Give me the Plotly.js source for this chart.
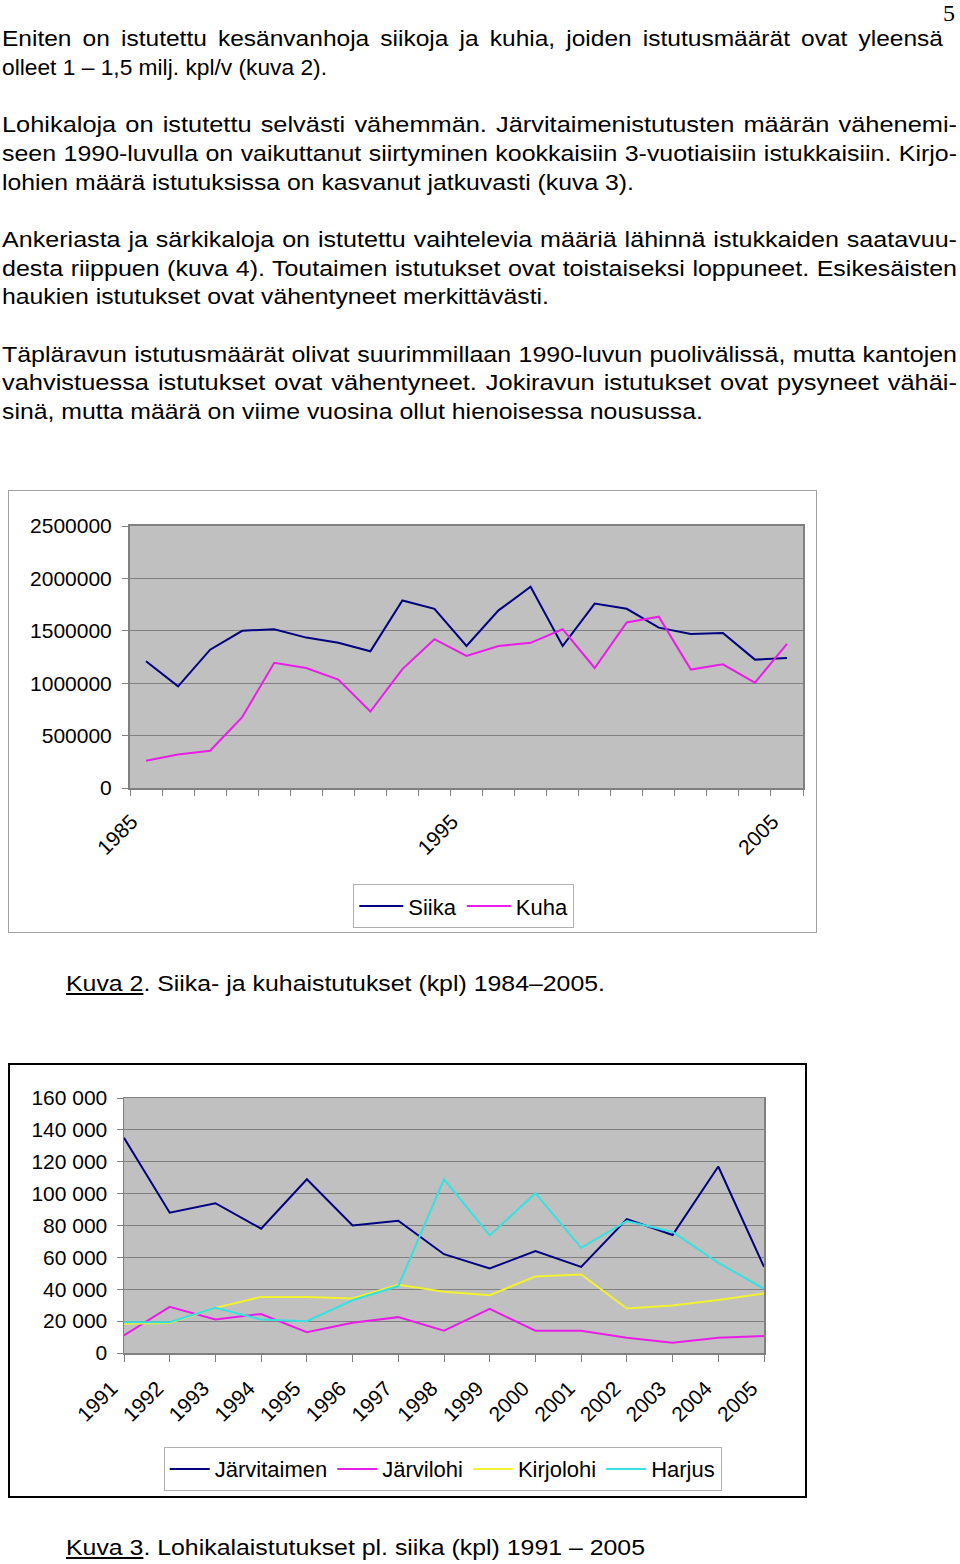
<!DOCTYPE html>
<html>
<head>
<meta charset="utf-8">
<script src="https://cdn.plot.ly/plotly-3.0.1.min.js"></script>
<style>
  html, body { margin:0; padding:0; background:#fff; }
  body { width:960px; height:1564px; position:relative; overflow:hidden;
         font-family:'Liberation Sans', Arial, Helvetica, sans-serif; color:#000; }
  .ln { position:absolute; font-size:22px; line-height:28px; height:28px;
        white-space:nowrap; transform-origin:0 50%; }
  .frame { position:absolute; box-sizing:border-box; pointer-events:none; }
  .plot { position:absolute; }
  #pnum { position:absolute; right:5px; top:1px; font-family:'Liberation Serif','Times New Roman',serif; font-size:24px; line-height:1; }
</style>
</head>
<body>
<div id="pnum">5</div>

<div class="plot" id="chart1" style="left:8px; top:490px; width:809px; height:443px;"></div>
<div class="frame" style="left:8px; top:490px; width:809px; height:443px; border:1px solid #a0a0a0;"></div>

<div class="plot" id="chart2" style="left:8px; top:1063px; width:799px; height:435px;"></div>
<div class="frame" style="left:8px; top:1063px; width:799px; height:435px; border:2px solid #000;"></div>

<script>
// ---------------- Chart data ----------------
// Kuva 2: Siika- ja kuhaistutukset (kpl)
const years1 = [1985,1986,1987,1988,1989,1990,1991,1992,1993,1994,1995,1996,1997,1998,1999,2000,2001,2002,2003,2004,2005];
const siika  = [1210000, 970000,1320000,1500000,1515000,1435000,1385000,1305000,1790000,1710000,1355000,1695000,1920000,1355000,1760000,1710000,1530000,1470000,1480000,1225000,1240000];
const kuha   = [ 260000, 320000, 355000, 675000,1195000,1145000,1035000, 730000,1135000,1420000,1260000,1355000,1385000,1515000,1145000,1580000,1635000,1130000,1180000,1005000,1375000];
const xLabels1 = [1985, 1995, 2005];
const yTicks1 = [0, 500000, 1000000, 1500000, 2000000, 2500000];

// Kuva 3: Lohikalaistutukset pl. siika (kpl)
const years2 = [1991,1992,1993,1994,1995,1996,1997,1998,1999,2000,2001,2002,2003,2004,2005];
const jarvitaimen = [135000, 88000, 94000, 78000,109000, 80000, 83000, 62000, 53000, 64000, 54000, 84000, 74000,117000, 54000];
const jarvilohi   = [ 11000, 29000, 21000, 24500, 13000, 19000, 22500, 14000, 27700, 14000, 14000,  9600,  6500,  9600, 10700];
const kirjolohi   = [ 18400, 18900, 28300, 35200, 35200, 34200, 42800, 38400, 36300, 48000, 49300, 27900, 29800, 33300, 37300];
const harjus      = [ 19300, 19300, 28300, 21000, 19900, 33100, 42000,109000, 73800,100200, 66000, 82800, 75900, 56600, 40300];
const yTicks2 = [0, 20000, 40000, 60000, 80000, 100000, 120000, 140000, 160000];

// ---------------- Page text ----------------
const paragraphs = [
  ["Eniten on istutettu kesänvanhoja siikoja ja kuhia, joiden istutusmäärät ovat yleensä",
   "olleet 1 – 1,5 milj. kpl/v (kuva 2)."],
  ["Lohikaloja on istutettu selvästi vähemmän. Järvitaimenistutusten määrän vähenemi-",
   "seen 1990-luvulla on vaikuttanut siirtyminen kookkaisiin 3-vuotiaisiin istukkaisiin. Kirjo-",
   "lohien määrä istutuksissa on kasvanut jatkuvasti (kuva 3)."],
  ["Ankeriasta ja särkikaloja on istutettu vaihtelevia määriä lähinnä istukkaiden saatavuu-",
   "desta riippuen (kuva 4). Toutaimen istutukset ovat toistaiseksi loppuneet. Esikesäisten",
   "haukien istutukset ovat vähentyneet merkittävästi."],
  ["Täpläravun istutusmäärät olivat suurimmillaan 1990-luvun puolivälissä, mutta kantojen",
   "vahvistuessa istutukset ovat vähentyneet. Jokiravun istutukset ovat pysyneet vähäi-",
   "sinä, mutta määrä on viime vuosina ollut hienoisessa nousussa."]
];
const captions = [
  {u:"Kuva 2", rest:". Siika- ja kuhaistutukset (kpl) 1984–2005."},
  {u:"Kuva 3", rest:". Lohikalaistutukset pl. siika (kpl) 1991 – 2005"}
];

// layout of text (page geometry)
const TEXT_LEFT = 2, LINE_H = 28.7, FIRST_CENTER = 39;
const paraStart = [0, 3, 7, 11];
const justRight = [[943], [957, 957], [957, 957], [957, 957]];
const lastEnd = [327, 634, 549, 703];
const capGeom = [{left:66, center:984, end:605}, {left:66, center:1548, end:645}];

function measure(html) {
  const s = document.createElement('span');
  s.className = 'ln';
  s.style.position = 'absolute'; s.style.visibility = 'hidden'; s.style.left = '0'; s.style.top = '0';
  s.innerHTML = html;
  document.body.appendChild(s);
  const w = s.getBoundingClientRect().width;
  document.body.removeChild(s);
  return w;
}
function esc(t){ return t.replace(/&/g,'&amp;').replace(/</g,'&lt;'); }

function drawText() {
  paragraphs.forEach((lines, p) => {
    const last = lines[lines.length - 1];
    const s = (lastEnd[p] - TEXT_LEFT) / measure(esc(last));
    lines.forEach((t, i) => {
      const cy = FIRST_CENTER + LINE_H * (paraStart[p] + i);
      const d = document.createElement('div');
      d.className = 'ln';
      d.textContent = t;
      d.style.left = TEXT_LEFT + 'px';
      d.style.top = (cy - 14) + 'px';
      if (i < lines.length - 1) {
        const W = justRight[p][i] - TEXT_LEFT;
        const n = measure(esc(t));
        const fit = W / n;
        let g = fit > s ? s + 0.6 * (fit - s) : fit;
        d.style.whiteSpace = 'normal';
        d.style.width = (W / g) + 'px';
        d.style.textAlign = 'justify';
        d.style.textAlignLast = 'justify';
        d.style.transform = 'scaleX(' + g + ')';
      } else {
        d.style.transform = 'scaleX(' + s + ')';
      }
      document.body.appendChild(d);
    });
  });
  captions.forEach((c, i) => {
    const g = capGeom[i];
    const html = '<u>' + esc(c.u) + '</u>' + esc(c.rest);
    const n = measure(html);
    const d = document.createElement('div');
    d.className = 'ln';
    d.innerHTML = html;
    d.style.left = g.left + 'px';
    d.style.top = (g.center - 14) + 'px';
    d.style.transform = 'scaleX(' + ((g.end - g.left) / n) + ')';
    document.body.appendChild(d);
  });
}
drawText();

// ---------------- Charts ----------------
const FONT = "'Liberation Sans', Arial, Helvetica, sans-serif";
const GRID = '#808080';
const NAVY = '#000080', MAGENTA = '#e81ee8', YELLOW = '#f2f230', CYAN = '#38e0e0';
// rotated labels in the reference sit a little left of their category
const LABEL_SHIFT1 = 0.45;          // fraction of a category (chart 1)
const PAD2 = '\u00a0\u00a0\u00a0';  // trailing padding that moves labels of chart 2 left/down

const trace = (x, y, name, color) => ({
  type:'scatter', mode:'lines', x:x, y:y, name:name,
  line:{color:color, width:2}, hoverinfo:'skip'
});

const layout1 = {
  width:809, height:443,
  margin:{l:122, r:14, t:36, b:145, pad:0},
  paper_bgcolor:'rgba(0,0,0,0)', plot_bgcolor:'#c0c0c0',
  font:{family:FONT, size:21, color:'#000'},
  showlegend:true,
  legend:{orientation:'h', xref:'paper', x:0.496, xanchor:'center',
          yref:'container', y:0.11, yanchor:'top',
          bgcolor:'#fff', bordercolor:'#b0b0b0', borderwidth:1, font:{size:22},
          itemwidth:44, tracegroupgap:0},
  xaxis:{range:[1984.5, 2005.5], tickmode:'array',
         tickvals:xLabels1.map(v => v - LABEL_SHIFT1), ticktext:xLabels1.map(String),
         ticks:'', tickangle:-45, showgrid:false, zeroline:false,
         showline:true, mirror:true, linecolor:GRID, linewidth:2, ticklabelstandoff:11,
         minor:{tickmode:'linear', tick0:1984.5, dtick:1, ticks:'outside', ticklen:6, tickcolor:GRID, tickwidth:1, showgrid:false}},
  yaxis:{range:[0, 2500000], tickmode:'array', tickvals:yTicks1, tickformat:'d',
         ticks:'outside', ticklen:6, tickcolor:GRID, tickwidth:1,
         showgrid:true, gridcolor:GRID, gridwidth:1, zeroline:false,
         showline:true, mirror:true, linecolor:GRID, linewidth:2, ticklabelstandoff:6}
};

Plotly.newPlot('chart1', [
  trace(years1, siika, 'Siika', NAVY),
  trace(years1, kuha, 'Kuha', MAGENTA)
], layout1, {displayModeBar:false, staticPlot:true});

const layout2 = {
  width:799, height:435,
  margin:{l:116, r:43, t:35, b:145, pad:0},
  separators:', ',
  paper_bgcolor:'rgba(0,0,0,0)', plot_bgcolor:'#c0c0c0',
  font:{family:FONT, size:21, color:'#000'},
  showlegend:true,
  legend:{orientation:'h', xref:'paper', x:0.498, xanchor:'center',
          yref:'container', y:0.117, yanchor:'top',
          bgcolor:'#fff', bordercolor:'#b0b0b0', borderwidth:1, font:{size:22},
          itemwidth:40, tracegroupgap:0},
  xaxis:{range:[1991, 2005], tickmode:'array',
         tickvals:years2, ticktext:years2.map(y => String(y) + PAD2),
         ticks:'outside', ticklen:7, tickcolor:GRID, tickwidth:1, tickangle:-45,
         showgrid:false, zeroline:false, showline:true, mirror:true, linecolor:GRID, linewidth:1.5,
         ticklabelstandoff:-6},
  yaxis:{range:[0, 160000], tickmode:'array', tickvals:yTicks2, tickformat:',d',
         ticks:'outside', ticklen:6, tickcolor:GRID, tickwidth:1,
         showgrid:true, gridcolor:GRID, gridwidth:1, zeroline:false,
         showline:true, mirror:true, linecolor:GRID, linewidth:1.5, ticklabelstandoff:5}
};

Plotly.newPlot('chart2', [
  trace(years2, jarvitaimen, 'Järvitaimen', NAVY),
  trace(years2, jarvilohi, 'Järvilohi', MAGENTA),
  trace(years2, kirjolohi, 'Kirjolohi', YELLOW),
  trace(years2, harjus, 'Harjus', CYAN)
], layout2, {displayModeBar:false, staticPlot:true});
</script>
</body>
</html>
